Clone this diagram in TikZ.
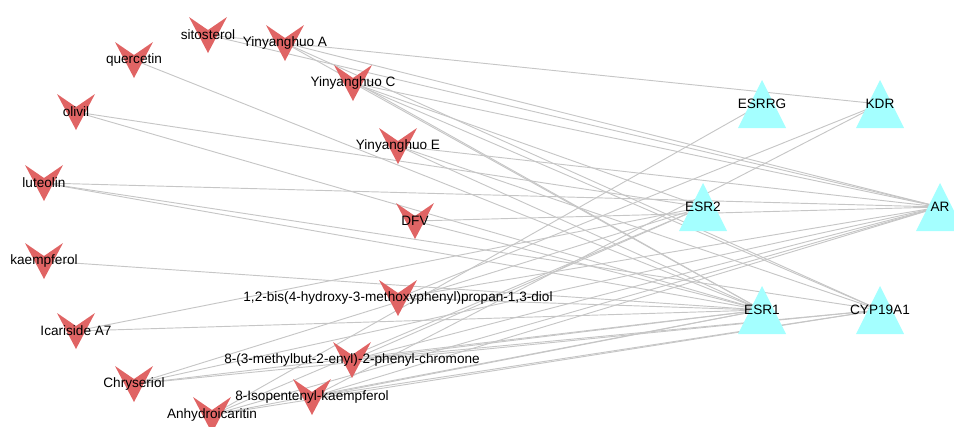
\documentclass[tikz,border=0pt]{standalone}
\usepackage{fontspec}
\setmainfont{Liberation Sans}
\usepackage{xcolor}
\usepackage{tikz}
\pgfdeclarelayer{edgelayer}
\pgfsetlayers{edgelayer,main}
\definecolor{drugred}{RGB}{224,100,100}
\definecolor{targetcyan}{RGB}{164,255,255}
\definecolor{linkgray}{RGB}{198,198,198}
\tikzset{
    none/.style = {inner sep=0pt},
    ligand/.style = {inner sep=0pt, minimum width=30pt, minimum height=30pt,
        font=\fontsize{10.2pt}{11pt}\selectfont,
        path picture={\fill [drugred]
            ([shift={(-14.25pt,13.5pt)}]path picture bounding box.center)
            -- ([shift={(0pt,3.75pt)}]path picture bounding box.center)
            -- ([shift={(14.25pt,13.5pt)}]path picture bounding box.center)
            -- ([shift={(0pt,-13.5pt)}]path picture bounding box.center) -- cycle;}},
    target/.style = {inner sep=0pt, minimum width=37pt, minimum height=37pt,
        font=\fontsize{10.2pt}{11pt}\selectfont,
        path picture={\fill [targetcyan]
            ([shift={(0pt,18pt)}]path picture bounding box.center)
            -- ([shift={(18pt,-18pt)}]path picture bounding box.center)
            -- ([shift={(-18pt,-18pt)}]path picture bounding box.center) -- cycle;}},
    link/.style = {draw=linkgray, line width=0.7pt}
}

\begin{document}
\begin{tikzpicture}[x=0.75pt, y=-0.75pt]
  \useasboundingbox (0, 0) rectangle (954, 426);
  \clip (0, 0) rectangle (954, 426);
  % compounds
  \node [style=ligand] (0) at (208, 35) {sitosterol};
  \node [style=ligand] (1) at (134, 60) {quercetin};
  \node [style=ligand] (2) at (285, 43) {Yinyanghuo A};
  \node [style=ligand] (3) at (353, 83) {Yinyanghuo C};
  \node [style=ligand] (4) at (76, 112) {olivil};
  \node [style=ligand] (5) at (398, 146) {Yinyanghuo E};
  \node [style=ligand] (6) at (44, 183) {luteolin};
  \node [style=ligand] (7) at (415, 221) {DFV};
  \node [style=ligand] (8) at (44, 261) {kaempferol};
  \node [style=ligand] (9) at (398, 298) {1,2-bis(4-hydroxy-3-methoxyphenyl)propan-1,3-diol};
  \node [style=ligand] (10) at (76, 331) {Icariside A7};
  \node [style=ligand] (11) at (352, 360) {8-(3-methylbut-2-enyl)-2-phenyl-chromone};
  \node [style=ligand] (12) at (134, 384) {Chryseriol};
  \node [style=ligand] (13) at (312, 397) {8-Isopentenyl-kaempferol};
  \node [style=ligand] (14) at (212, 415) {Anhydroicaritin};
  % targets
  \node [style=target] (15) at (762, 104) {ESRRG};
  \node [style=target] (16) at (880, 104) {KDR};
  \node [style=target] (17) at (703, 207) {ESR2};
  \node [style=target] (18) at (940, 207) {AR};
  \node [style=target] (19) at (762, 310) {ESR1};
  \node [style=target] (20) at (880, 310) {CYP19A1};
  \begin{pgfonlayer}{edgelayer}
    \draw [style=link] (0.center) to (16.center);
    \draw [style=link] (0.center) to (18.center);
    \draw [style=link] (1.center) to (19.center);
    \draw [style=link] (2.center) to (18.center);
    \draw [style=link] (2.center) to (19.center);
    \draw [style=link] (2.center) to (20.center);
    \draw [style=link] (3.center) to (17.center);
    \draw [style=link] (3.center) to (18.center);
    \draw [style=link] (3.center) to (19.center);
    \draw [style=link] (3.center) to (20.center);
    \draw [style=link] (4.center) to (17.center);
    \draw [style=link] (4.center) to (19.center);
    \draw [style=link] (5.center) to (18.center);
    \draw [style=link] (5.center) to (19.center);
    \draw [style=link] (5.center) to (20.center);
    \draw [style=link] (6.center) to (18.center);
    \draw [style=link] (6.center) to (19.center);
    \draw [style=link] (6.center) to (20.center);
    \draw [style=link] (7.center) to (18.center);
    \draw [style=link] (7.center) to (19.center);
    \draw [style=link] (8.center) to (19.center);
    \draw [style=link] (9.center) to (16.center);
    \draw [style=link] (9.center) to (18.center);
    \draw [style=link] (9.center) to (19.center);
    \draw [style=link] (10.center) to (17.center);
    \draw [style=link] (10.center) to (19.center);
    \draw [style=link] (11.center) to (17.center);
    \draw [style=link] (11.center) to (18.center);
    \draw [style=link] (11.center) to (19.center);
    \draw [style=link] (11.center) to (20.center);
    \draw [style=link] (12.center) to (17.center);
    \draw [style=link] (12.center) to (18.center);
    \draw [style=link] (12.center) to (19.center);
    \draw [style=link] (12.center) to (20.center);
    \draw [style=link] (13.center) to (16.center);
    \draw [style=link] (13.center) to (18.center);
    \draw [style=link] (13.center) to (19.center);
    \draw [style=link] (13.center) to (20.center);
    \draw [style=link] (14.center) to (15.center);
    \draw [style=link] (14.center) to (17.center);
    \draw [style=link] (14.center) to (18.center);
    \draw [style=link] (14.center) to (19.center);
    \draw [style=link] (14.center) to (20.center);
  \end{pgfonlayer}
\end{tikzpicture}
\end{document}
